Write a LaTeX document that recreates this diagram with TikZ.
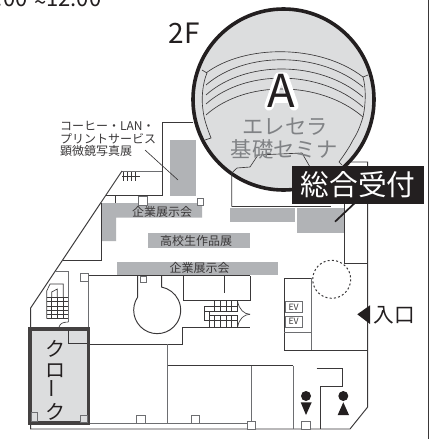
\documentclass[tikz,border=0pt]{standalone}
\usepackage{fontspec}
\usepackage{graphicx}
\setmainfont{Noto Sans CJK JP}
\newcommand{\fpx}[1]{\fontsize{#1}{#1}\selectfont}
\definecolor{ink}{HTML}{231F20}
\definecolor{wall}{HTML}{3A3839}
\definecolor{wallg}{HTML}{6D6E71}
\definecolor{band}{HTML}{B1B3B6}
\definecolor{pale}{HTML}{DCDDDE}
\definecolor{faded}{HTML}{808285}
\tikzset{
  x=0.75pt,y=-0.75pt,
  wl/.style={draw=wall,line width=0.75pt*0.95},
  wg/.style={draw=wallg,line width=0.75pt*1.0},
  thin line/.style={draw=wall,line width=0.75pt*0.65},
  gray band/.style={fill=band,draw=none},
  sq/.style={draw=wallg,fill=white,line width=0.75pt*0.9},
  lbl/.style={inner sep=0pt,outer sep=0pt,text=ink},
}
\begin{document}
\begin{tikzpicture}
\useasboundingbox (0,0) rectangle (430,439);
\clip (0,0) rectangle (430,439);
\fill[white] (0,0) rectangle (430,439);
% page frame
\draw[draw=wall,line width=1.1pt] (428.3,0) -- (428.3,439);
% gray display bands
\fill[gray band] (170,140) rectangle (196,196);
\fill[gray band] (101,203) -- (202,203) -- (202,217.5) -- (116,217.5) -- (116,241) -- (101,241) -- cycle;
\fill[gray band] (148,233) rectangle (250,248);
\fill[gray band] (117,262) rectangle (278,275);
\fill[gray band] (230,208) rectangle (295,222);
\fill[gray band] (297,208) rectangle (344,233);
% outer walls
\draw[wl] (193,122) -- (162,122) -- (162,195) -- (106,195);
\draw[wg] (122,171) -- (162,171);
\draw[wl] (122,171) -- (30.6,308) -- (30.6,429) -- (350,429) -- (367.7,407) -- (367.7,162) -- (338,162);
\draw[wg] (30.6,423.3) -- (247,423.3);
\draw[wl] (115,195) -- (115,203);
\draw[wl] (101,203) -- (101,260.7) -- (63,260.7);
% upper-left stair
\foreach \vx in {123,127,131,135}{\draw[thin line] (\vx,172) -- (\vx,181);}
\draw[thin line] (122,176) -- (140,176);
% room under the hall
\draw[wl] (231.7,206.7) -- (331,206.7);
\draw[wl] (344.3,200) -- (344.3,263) -- (367.7,263);
% lower-left stair
\draw[wg] (55,271.7) -- (68.3,271.7) -- (68.3,321.7);
\draw[thin line] (59,327) .. controls (60,323) and (64,322) .. (68.3,322);
\foreach \hy in {297.3,301.7,306,310,314.3,318.7}{\draw[thin line] (46.7,\hy) -- (68.3,\hy);}
\foreach \vx in {51.7,57.3,63.3}{\draw[thin line] (\vx,297) -- (\vx,318.7);}
\draw[thin line] (46.7,318.7) -- (46.7,291) -- (50,284) -- (63.3,284) -- (63.3,297);
\draw[thin line] (51.7,297) -- (51.7,292) -- (57.3,289) -- (57.3,297);
% central rooms
\draw[wg] (88.3,275.7) -- (88.3,329);
\draw[wl] (88.3,275.7) -- (250,275.7);
\draw[wl] (88.3,344) -- (182.3,344) -- (182.3,327.3) -- (250,327.3);
\draw[wl] (183.3,275.7) -- (183.3,300.7) -- (250,300.7) -- (250,275.7);
\draw[wl] (224.3,275.7) -- (224.3,293);
% round room
\draw[wl] (137.7,275.7) -- (137.7,297) arc[start angle=214,end angle=-79,radius=23.5] -- (161.7,275.7);
\draw[sq] (140,276) rectangle (146.7,282.7);
% centre stair
\foreach \vx in {214.3,220,226,231.7,237.3}{
  \draw[thin line] (\vx,301.3) -- (\vx,311);
  \draw[thin line] (\vx,315.7) -- (\vx,326.7);}
\draw[thin line] (204,306.7) -- (237.3,306.7);
\draw[thin line] (204,311) -- (238.3,311);
\draw[thin line] (209.3,315) -- (238.3,315);
\draw[thin line] (204,306.7) -- (204,320) -- (238.3,320);
\draw[thin line] (209.3,311) -- (209.3,326.7);
\draw[thin line] (237.7,301.7) .. controls (239,309) and (244,314.3) .. (250,314.3);
\draw[thin line] (237.7,326.7) .. controls (239,319) and (244,314.3) .. (250,314.3);
% lower rooms
\draw[wg] (167.7,344) -- (167.7,423.3);
\draw[wl] (167.7,365.7) -- (293.3,365.7);
\draw[wg] (293.3,365.7) -- (293.3,429);
\draw[wg] (251,365.7) -- (251,423.3);
\draw[wl] (316.7,368.3) -- (342.3,368.3) -- (342.3,386.7) -- (320.3,386.7) -- (320.3,429);
% EV and entrance
\draw[wl] (311.3,278.3) -- (284.3,278.3) -- (284.3,350) -- (367.7,350);
\draw[wg] (311.3,278.3) -- (311.3,350);
\draw[wg] (284.3,332.3) -- (311.3,332.3);
\node[draw=wallg,line width=0.6pt,fill=white,minimum width=13pt,minimum height=8.2pt,inner sep=0pt,text=wall,anchor=center,font=\fpx{6.5}\itshape] (ev1) at (293.6,307.2) {EV};
\node[draw=wallg,line width=0.6pt,fill=white,minimum width=13pt,minimum height=8.5pt,inner sep=0pt,text=wall,anchor=center,font=\fpx{6.5}\itshape] (ev2) at (293.6,321.6) {EV};
\draw[draw=wall,line width=0.75pt,dash pattern=on 1.5pt off 1.7pt] (331.7,279.3) circle[radius=19];
% small columns
\draw[sq] (138,196) rectangle (147,205);
\draw[sq] (197,198) rectangle (203.5,205);
\draw[sq] (80.7,273.3) rectangle (88.3,281);
\draw[sq] (136.7,415.7) rectangle (145,423.3);
\draw[sq] (191,415.7) rectangle (199.3,423.3);
\draw[sq] (247.3,421) rectangle (255.7,429);
\draw[sq] (301.7,421) rectangle (310.7,429);
% hall circle
\draw[fill=pale,draw=ink,line width=2.7pt] (283.5,99.5) circle[radius=90.5];
\foreach \ya/\yb/\yc in {73/77/44, 85/87/51, 95/97/60, 104/107/69, 115/117/80}{
  \draw[thin line] (206,\ya) .. controls (245,\yc) and (320,\yc) .. (363,\yb);}
\draw[thin line] (202,70) -- (207,73) .. controls (203,82) and (201,98) .. (203,110) .. controls (204,120) and (208,130) .. (211,138) -- (205,140);
\draw[thin line] (368,75) -- (363,77) .. controls (366,88) and (366,103) .. (363,117) .. controls (360,127) and (357,134) .. (353,140) .. controls (349,148) and (344,155) .. (339,162) -- (342,165);
\draw[thin line] (231.7,206.7) -- (231.7,173) -- (237,168) -- (250,167) -- (258,155) -- (302,153) -- (310,167);
% A with its white halo
\draw[draw=white,line width=7pt,line cap=round,line join=round] (269,106) -- (279,77) -- (284,77) -- (294,106);
\draw[draw=white,line width=7pt,line cap=round] (273,98) -- (290,98);
\node[lbl,font=\fpx{34}] (hallA) at (281.5,91) {A};
\node[lbl,text=faded,font=\fpx{16}] (t1) at (285,127) {エレセラ};
\node[lbl,text=faded,font=\fpx{16}] (t2) at (284,149) {基礎セミナ};
% reception
\node[fill=ink,text=white,minimum width=99pt,minimum height=28.5pt,inner sep=0pt,font=\fpx{21.5}] (recv) at (358,185) {総合受付};
\coordinate (recvtip) at (335,221.7);
\draw[draw=ink,line width=1.3pt] (recvtip) -- (358,200);
% cloak room
\draw[fill=pale,draw=ink!85,line width=2.7pt] (30,329) rectangle (88.5,423);
\draw[thin line] (68.3,330) -- (68.3,343.5) -- (87,343.5);
\draw[wg,fill=pale] (31.7,412.7) rectangle (37.3,421.7);
\draw[wg,fill=pale] (80,415.7) rectangle (87.3,422.7);
\node[lbl,align=center,font=\fontsize{15}{15.7}\selectfont] (cloak) at (55,380) {ク\\ロ\\\rotatebox{90}{ー}\\ク};
% texts
\node[lbl,font=\fpx{21},anchor=center] (floor) at (184,33) {2F};
\node[lbl,font=\fpx{16.5},anchor=base west] (clock) at (-3,7) {:00\kern5pt\raisebox{-2.5pt}{\textasciitilde}12:00};
\node[lbl,text=wall,align=left,anchor=west,font=\fontsize{9}{9.2}\selectfont] (note) at (60,139) {コーヒー・LAN・\\プリントサービス\\顕微鏡写真展};
\coordinate (noteend) at (145,150);
\coordinate (notetip) at (178,180);
\draw[thin line] (noteend) -- (notetip);
\node[lbl,text=wall,font=\fpx{9}] (ex1) at (162,212) {企業展示会};
\node[lbl,text=wall,font=\fpx{9}] (ex2) at (196,241) {高校生作品展};
\node[lbl,text=wall,font=\fpx{9}] (ex3) at (199.5,268) {企業展示会};
% entrance mark
\fill[ink] (357.3,314.3) -- (370,305.3) -- (370,324) -- cycle;
\node[lbl,font=\fpx{15.5}] (door) at (394.5,315) {入口};
% toilet marks
\fill[ink] (306,396) circle[radius=5];
\fill[ink] (300.7,402.3) -- (311.7,402.3) -- (306,415) -- cycle;
\fill[ink] (343.3,396) circle[radius=5];
\fill[ink] (343.3,402.3) -- (349,415) -- (337.7,415) -- cycle;
\end{tikzpicture}
\end{document}
